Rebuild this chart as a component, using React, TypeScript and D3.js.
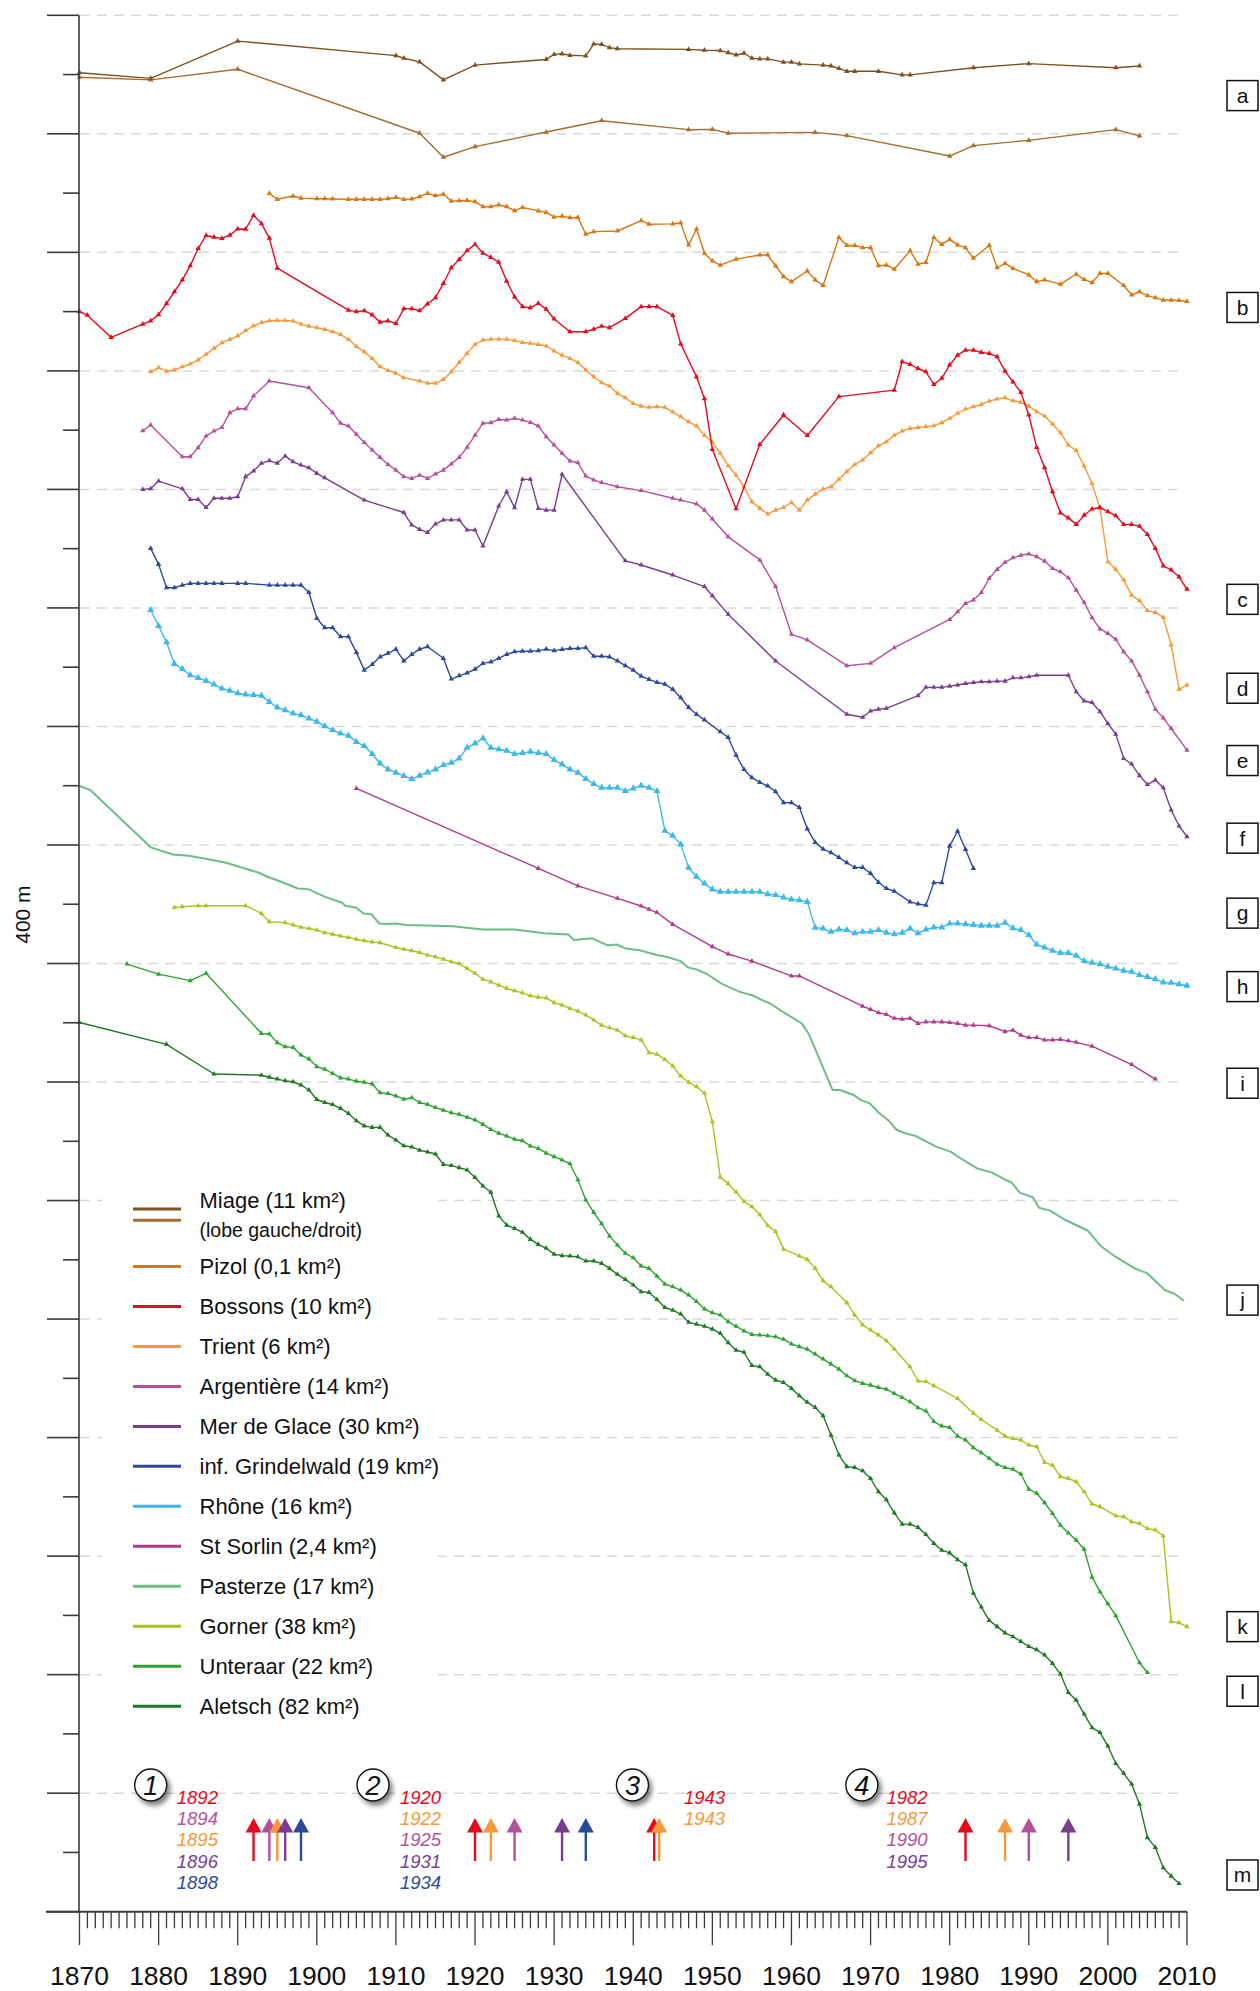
import React from 'react';
import * as d3 from 'd3';

type P = [number, number];

// ---- glacier series: [year, position in metres below the top line] ----
const miageLeft: P[] = [[1870,194],[1879,213],[1890,87],[1910,136],[1911,145],[1913,157],[1916,218],[1920,168],[1929,149],[1930,132],[1931,130],[1932,135],[1934,137],[1935,97],[1936,98],[1937,109],[1938,113],[1947,115],[1949,118],[1951,119],[1952,126],[1953,134],[1954,128],[1955,145],[1956,147],[1957,147],[1959,158],[1960,158],[1961,164],[1964,168],[1965,171],[1966,179],[1967,189],[1968,189],[1971,189],[1974,201],[1975,201],[1983,177],[1990,163],[2001,177],[2004,171]];
const miageRight: P[] = [[1870,209],[1879,218],[1890,182],[1913,398],[1916,479],[1920,443],[1929,394],[1936,356],[1947,386],[1950,385],[1952,398],[1963,395],[1967,406],[1980,475],[1983,440],[1990,422],[2001,386],[2004,407]];
const pizol: P[] = [[1894,601],[1895,621],[1897,610],[1898,617],[1900,619],[1901,619],[1902,620],[1904,621],[1905,621],[1906,621],[1907,621],[1908,621],[1909,619],[1910,615],[1911,621],[1912,620],[1913,612],[1914,601],[1915,609],[1916,604],[1917,627],[1918,626],[1919,625],[1920,629],[1921,646],[1922,646],[1923,640],[1924,646],[1925,659],[1926,648],[1928,660],[1929,665],[1930,681],[1931,678],[1932,683],[1933,682],[1934,739],[1935,730],[1938,728],[1941,693],[1942,705],[1945,704],[1946,701],[1947,775],[1948,721],[1949,803],[1950,829],[1951,843],[1953,823],[1956,809],[1957,809],[1958,846],[1959,882],[1960,899],[1962,863],[1963,893],[1964,912],[1966,750],[1967,777],[1968,777],[1969,784],[1970,784],[1971,845],[1972,843],[1973,857],[1975,794],[1976,840],[1977,834],[1978,750],[1979,773],[1980,756],[1981,775],[1982,784],[1983,820],[1985,777],[1986,852],[1987,837],[1988,854],[1990,876],[1991,899],[1992,893],[1994,907],[1996,874],[1997,891],[1998,902],[1999,871],[2000,871],[2002,912],[2003,944],[2004,933],[2005,946],[2006,953],[2007,961],[2008,961],[2009,962],[2010,966]];
const bossons: P[] = [[1870,1000],[1871,1012],[1874,1087],[1878,1042],[1879,1031],[1880,1010],[1881,972],[1882,933],[1883,893],[1884,845],[1885,787],[1886,743],[1887,749],[1888,753],[1889,742],[1890,721],[1891,722],[1892,675],[1893,703],[1894,752],[1895,853],[1904,995],[1905,1000],[1906,997],[1907,1011],[1908,1036],[1909,1031],[1910,1040],[1911,990],[1912,990],[1913,997],[1914,974],[1915,953],[1916,905],[1917,852],[1918,824],[1919,794],[1920,773],[1921,803],[1922,817],[1923,833],[1924,897],[1925,950],[1926,983],[1927,987],[1928,972],[1929,992],[1930,1025],[1932,1068],[1934,1068],[1935,1059],[1936,1049],[1937,1054],[1939,1023],[1941,983],[1942,983],[1943,983],[1945,1013],[1946,1109],[1948,1220],[1949,1294],[1950,1465],[1953,1665],[1956,1448],[1959,1349],[1962,1418],[1966,1287],[1973,1265],[1974,1169],[1975,1178],[1976,1192],[1977,1203],[1978,1246],[1979,1225],[1980,1180],[1981,1147],[1982,1130],[1983,1130],[1984,1138],[1985,1141],[1986,1152],[1987,1201],[1988,1237],[1989,1273],[1990,1349],[1991,1458],[1992,1527],[1993,1608],[1994,1679],[1995,1696],[1996,1718],[1997,1687],[1998,1666],[1999,1661],[2000,1675],[2001,1689],[2002,1718],[2003,1718],[2004,1724],[2005,1752],[2006,1799],[2007,1858],[2008,1872],[2009,1895],[2010,1937]];
const trient: P[] = [[1879,1203],[1880,1189],[1881,1201],[1882,1197],[1883,1186],[1884,1177],[1885,1163],[1886,1144],[1887,1124],[1888,1105],[1889,1094],[1890,1082],[1891,1064],[1892,1048],[1893,1037],[1894,1031],[1895,1030],[1896,1030],[1897,1032],[1898,1042],[1899,1049],[1900,1054],[1901,1060],[1902,1068],[1903,1077],[1904,1094],[1905,1118],[1906,1135],[1907,1158],[1908,1186],[1909,1199],[1910,1208],[1911,1223],[1913,1234],[1914,1242],[1915,1242],[1916,1229],[1917,1203],[1918,1172],[1919,1141],[1920,1111],[1921,1096],[1922,1093],[1923,1093],[1924,1093],[1925,1098],[1926,1104],[1927,1107],[1928,1111],[1929,1116],[1930,1133],[1931,1147],[1932,1158],[1933,1172],[1934,1197],[1935,1220],[1936,1240],[1937,1251],[1938,1276],[1939,1291],[1940,1310],[1941,1319],[1942,1323],[1943,1321],[1944,1323],[1945,1339],[1946,1355],[1947,1372],[1948,1386],[1949,1417],[1950,1441],[1951,1478],[1952,1520],[1953,1552],[1954,1591],[1955,1642],[1956,1664],[1957,1683],[1958,1670],[1959,1661],[1960,1644],[1961,1670],[1962,1636],[1963,1616],[1964,1599],[1965,1591],[1966,1566],[1967,1540],[1968,1516],[1969,1501],[1970,1476],[1971,1453],[1972,1439],[1973,1417],[1974,1403],[1975,1394],[1976,1391],[1977,1388],[1978,1385],[1979,1375],[1980,1360],[1981,1343],[1982,1329],[1983,1321],[1984,1313],[1985,1302],[1986,1295],[1987,1291],[1988,1301],[1989,1306],[1990,1319],[1991,1338],[1992,1352],[1993,1379],[1994,1409],[1995,1450],[1996,1469],[1997,1521],[1998,1580],[1999,1664],[2000,1844],[2001,1870],[2002,1906],[2003,1957],[2004,1976],[2005,2009],[2006,2015],[2007,2032],[2008,2125],[2009,2275],[2010,2260]];
const argentiere: P[] = [[1878,1402],[1879,1383],[1883,1490],[1884,1490],[1885,1459],[1886,1420],[1887,1403],[1888,1391],[1889,1341],[1890,1328],[1891,1328],[1892,1285],[1894,1234],[1899,1257],[1902,1341],[1903,1377],[1904,1386],[1905,1414],[1906,1442],[1907,1467],[1908,1492],[1909,1516],[1910,1535],[1911,1557],[1912,1563],[1913,1552],[1914,1563],[1915,1548],[1916,1535],[1917,1514],[1918,1492],[1919,1458],[1920,1417],[1921,1377],[1922,1375],[1923,1364],[1924,1366],[1925,1360],[1926,1366],[1927,1374],[1928,1386],[1929,1422],[1930,1450],[1931,1478],[1932,1504],[1933,1510],[1934,1555],[1935,1568],[1936,1577],[1938,1591],[1941,1604],[1945,1630],[1946,1636],[1948,1649],[1949,1670],[1950,1700],[1952,1760],[1956,1838],[1958,1928],[1960,2089],[1962,2108],[1967,2195],[1970,2187],[1973,2134],[1980,2039],[1981,2013],[1982,1985],[1983,1973],[1984,1948],[1985,1900],[1986,1870],[1987,1846],[1988,1831],[1989,1822],[1990,1818],[1991,1827],[1992,1842],[1993,1867],[1994,1878],[1995,1898],[1996,1940],[1997,1981],[1998,2033],[1999,2071],[2000,2086],[2001,2106],[2002,2148],[2003,2179],[2004,2227],[2005,2283],[2006,2342],[2007,2371],[2008,2407],[2010,2480]];
const merDeGlace: P[] = [[1878,1600],[1879,1598],[1880,1572],[1883,1598],[1884,1634],[1885,1634],[1886,1661],[1887,1630],[1888,1630],[1889,1630],[1890,1625],[1891,1557],[1892,1538],[1893,1512],[1894,1503],[1895,1512],[1896,1487],[1897,1507],[1898,1518],[1899,1527],[1900,1546],[1901,1561],[1906,1636],[1911,1678],[1912,1720],[1913,1735],[1914,1745],[1915,1717],[1916,1703],[1917,1703],[1918,1703],[1919,1737],[1920,1737],[1921,1791],[1923,1656],[1924,1608],[1925,1662],[1926,1566],[1927,1566],[1928,1664],[1929,1670],[1930,1670],[1931,1549],[1939,1841],[1941,1855],[1945,1889],[1949,1928],[1950,1959],[1952,2021],[1958,2179],[1967,2359],[1969,2369],[1970,2348],[1971,2342],[1972,2339],[1976,2296],[1977,2268],[1978,2268],[1979,2268],[1980,2264],[1981,2260],[1982,2255],[1983,2252],[1984,2249],[1985,2249],[1986,2247],[1987,2247],[1988,2236],[1989,2236],[1990,2232],[1991,2227],[1995,2227],[1996,2283],[1997,2314],[1998,2319],[1999,2350],[2000,2390],[2001,2426],[2002,2508],[2003,2527],[2004,2566],[2005,2596],[2006,2581],[2007,2607],[2008,2682],[2009,2736],[2010,2772]];
const grindelwald: P[] = [[1879,1799],[1880,1853],[1881,1932],[1882,1932],[1883,1923],[1884,1917],[1885,1917],[1886,1917],[1887,1917],[1888,1917],[1890,1917],[1891,1917],[1894,1923],[1895,1923],[1896,1923],[1897,1923],[1898,1923],[1899,1948],[1900,2035],[1901,2067],[1902,2067],[1903,2097],[1904,2097],[1905,2150],[1906,2210],[1907,2191],[1908,2165],[1909,2153],[1910,2139],[1911,2179],[1912,2157],[1913,2139],[1914,2131],[1916,2170],[1917,2240],[1918,2229],[1919,2219],[1920,2207],[1921,2187],[1922,2182],[1923,2170],[1924,2157],[1925,2148],[1926,2146],[1927,2146],[1928,2144],[1929,2139],[1930,2144],[1931,2140],[1932,2137],[1933,2137],[1934,2134],[1935,2163],[1936,2163],[1937,2165],[1938,2179],[1939,2195],[1940,2210],[1941,2230],[1942,2241],[1943,2251],[1944,2257],[1945,2275],[1946,2303],[1947,2336],[1948,2359],[1949,2378],[1951,2418],[1952,2437],[1953,2497],[1954,2545],[1955,2573],[1956,2589],[1957,2601],[1958,2620],[1959,2657],[1960,2657],[1961,2673],[1962,2746],[1963,2791],[1964,2814],[1965,2826],[1966,2842],[1967,2860],[1968,2876],[1969,2876],[1970,2896],[1971,2926],[1972,2947],[1973,2956],[1975,2992],[1976,2999],[1977,3003],[1978,2927],[1979,2927],[1980,2804],[1981,2753],[1982,2815],[1983,2879]];
const rhone: P[] = [[1879,2007],[1880,2061],[1881,2116],[1882,2189],[1883,2206],[1884,2227],[1885,2236],[1886,2246],[1887,2258],[1888,2272],[1889,2279],[1890,2288],[1891,2292],[1892,2294],[1893,2296],[1894,2317],[1895,2336],[1896,2345],[1897,2356],[1898,2362],[1899,2373],[1900,2384],[1901,2399],[1902,2412],[1903,2424],[1904,2431],[1905,2452],[1906,2466],[1907,2493],[1908,2525],[1909,2545],[1910,2556],[1911,2567],[1912,2577],[1913,2566],[1914,2555],[1915,2545],[1916,2530],[1917,2522],[1918,2508],[1919,2472],[1920,2457],[1921,2440],[1922,2472],[1923,2477],[1924,2482],[1925,2493],[1926,2489],[1927,2485],[1928,2489],[1929,2493],[1930,2513],[1931,2528],[1932,2545],[1933,2556],[1934,2577],[1935,2594],[1936,2607],[1937,2607],[1938,2607],[1939,2618],[1940,2609],[1941,2600],[1942,2607],[1943,2618],[1944,2752],[1945,2769],[1946,2798],[1947,2877],[1948,2907],[1949,2930],[1950,2950],[1951,2958],[1952,2958],[1953,2958],[1954,2958],[1955,2958],[1956,2958],[1957,2966],[1958,2969],[1959,2977],[1960,2984],[1961,2986],[1962,2992],[1963,3079],[1964,3082],[1965,3093],[1966,3085],[1967,3087],[1968,3098],[1969,3093],[1970,3093],[1971,3087],[1972,3096],[1973,3101],[1974,3096],[1975,3082],[1976,3098],[1977,3085],[1978,3078],[1979,3078],[1980,3065],[1981,3065],[1982,3067],[1983,3070],[1984,3072],[1985,3072],[1986,3072],[1987,3062],[1988,3081],[1989,3087],[1990,3104],[1991,3136],[1992,3146],[1993,3157],[1994,3164],[1995,3164],[1996,3174],[1997,3191],[1998,3197],[1999,3202],[2000,3211],[2001,3217],[2002,3224],[2003,3228],[2004,3239],[2005,3245],[2006,3253],[2007,3264],[2008,3265],[2009,3270],[2010,3275]];
const stSorlin: P[] = [[1905,2609],[1928,2879],[1933,2938],[1938,2980],[1941,3006],[1942,3017],[1943,3028],[1945,3068],[1950,3143],[1952,3168],[1955,3192],[1960,3242],[1961,3242],[1969,3344],[1970,3355],[1971,3366],[1972,3372],[1973,3385],[1974,3388],[1975,3385],[1976,3402],[1977,3397],[1978,3397],[1979,3397],[1980,3399],[1981,3402],[1982,3408],[1983,3408],[1985,3410],[1987,3430],[1988,3425],[1989,3442],[1990,3450],[1991,3450],[1992,3458],[1993,3458],[1994,3456],[1995,3461],[1996,3466],[1998,3479],[2003,3541],[2006,3590]];
const pasterze: P[] = [[1870,2601],[1871.4,2615],[1879,2808],[1881.8,2832],[1883.8,2836],[1886.3,2848],[1888.4,2859],[1890.5,2876],[1892.6,2893],[1893.9,2909],[1895.5,2924],[1897.6,2947],[1898.9,2949],[1901.2,2977],[1903.2,2995],[1903.6,3005],[1905,3012],[1905.9,3031],[1906.9,3034],[1907.9,3065],[1908.8,3067],[1910,3065],[1911.3,3070],[1917.2,3074],[1921,3085],[1925,3085],[1927.3,3093],[1928.7,3098],[1931.8,3102],[1932.5,3121],[1934.8,3115],[1936.7,3138],[1937.9,3136],[1939,3149],[1940.8,3155],[1943.1,3172],[1944.2,3177],[1946,3192],[1946.9,3213],[1948,3220],[1949.4,3237],[1951.2,3269],[1953.4,3295],[1955.2,3309],[1956.5,3326],[1957.3,3335],[1958.9,3363],[1961.3,3402],[1962.2,3438],[1963.6,3526],[1965.2,3627],[1966.1,3627],[1967.9,3644],[1968.8,3661],[1969.9,3672],[1971,3703],[1972.2,3728],[1973.3,3762],[1974.4,3773],[1975.6,3781],[1978.3,3818],[1980.1,3835],[1981.4,3858],[1983.5,3892],[1985.3,3905],[1986.9,3928],[1987.8,3939],[1988.9,3974],[1990.5,3989],[1991.3,4024],[1992.7,4034],[1994.5,4064],[1997.5,4102],[1999.2,4156],[2001.1,4192],[2003.4,4229],[2005,4246],[2007.2,4302],[2008.5,4316],[2009.6,4338]];
const gorner: P[] = [[1882,3011],[1883,3008],[1885,3005],[1886,3005],[1891,3005],[1893,3031],[1894,3059],[1896,3062],[1897,3070],[1898,3078],[1899,3082],[1900,3087],[1901,3096],[1902,3101],[1903,3107],[1904,3112],[1905,3118],[1906,3123],[1907,3127],[1908,3130],[1910,3146],[1911,3152],[1912,3157],[1913,3163],[1914,3172],[1915,3177],[1916,3186],[1917,3194],[1918,3200],[1919,3217],[1920,3233],[1921,3253],[1922,3262],[1923,3273],[1924,3284],[1925,3292],[1926,3299],[1927,3309],[1928,3314],[1929,3316],[1930,3332],[1931,3340],[1932,3352],[1933,3361],[1934,3374],[1935,3391],[1936,3408],[1937,3417],[1938,3425],[1939,3444],[1940,3450],[1941,3458],[1942,3501],[1943,3506],[1944,3524],[1945,3546],[1946,3580],[1947,3601],[1948,3616],[1949,3638],[1950,3734],[1951,3921],[1952,3943],[1953,3971],[1954,4003],[1955,4021],[1956,4048],[1957,4084],[1958,4105],[1959,4164],[1961,4187],[1962,4199],[1963,4229],[1964,4271],[1965,4291],[1967,4345],[1968,4386],[1969,4420],[1970,4437],[1971,4454],[1972,4473],[1973,4501],[1975,4561],[1976,4609],[1977,4611],[1978,4625],[1981,4668],[1983,4718],[1984,4739],[1986,4775],[1987,4795],[1988,4803],[1989,4808],[1990,4825],[1991,4831],[1992,4884],[1993,4893],[1994,4932],[1995,4938],[1996,4949],[1997,4983],[1998,5024],[1999,5033],[2001,5064],[2002,5067],[2003,5084],[2004,5090],[2005,5107],[2006,5112],[2007,5132],[2008,5421],[2009,5425],[2010,5438]];
const unteraar: P[] = [[1876,3202],[1880,3236],[1884,3258],[1886,3233],[1893,3436],[1894,3438],[1895,3467],[1896,3481],[1897,3483],[1898,3509],[1899,3522],[1900,3548],[1901,3557],[1902,3571],[1903,3586],[1904,3590],[1905,3597],[1906,3601],[1907,3607],[1908,3636],[1909,3639],[1910,3647],[1911,3658],[1912,3653],[1913,3669],[1914,3676],[1915,3686],[1916,3695],[1917,3704],[1918,3709],[1919,3719],[1920,3728],[1921,3743],[1922,3760],[1923,3773],[1924,3782],[1925,3793],[1926,3798],[1927,3816],[1928,3824],[1929,3840],[1930,3852],[1931,3863],[1932,3876],[1933,3930],[1934,3998],[1935,4040],[1936,4078],[1937,4120],[1938,4150],[1939,4178],[1940,4193],[1941,4221],[1942,4229],[1943,4255],[1944,4282],[1945,4291],[1946,4302],[1947,4319],[1948,4341],[1949,4366],[1950,4379],[1951,4386],[1952,4409],[1953,4424],[1954,4440],[1955,4452],[1956,4454],[1957,4456],[1958,4460],[1959,4468],[1960,4484],[1961,4493],[1962,4502],[1963,4518],[1964,4535],[1965,4552],[1966,4569],[1967,4591],[1968,4608],[1969,4617],[1970,4623],[1971,4631],[1972,4637],[1973,4651],[1974,4665],[1975,4679],[1976,4699],[1977,4710],[1978,4746],[1979,4761],[1980,4766],[1981,4795],[1982,4808],[1983,4834],[1984,4851],[1985,4870],[1986,4890],[1987,4901],[1988,4907],[1989,4923],[1990,4974],[1991,4988],[1992,5020],[1993,5056],[1994,5096],[1995,5122],[1996,5146],[1997,5177],[1998,5271],[1999,5320],[2000,5361],[2001,5401],[2004,5560],[2005,5593]];
const aletsch: P[] = [[1870,3399],[1881,3473],[1887,3573],[1893,3577],[1894,3584],[1895,3590],[1896,3596],[1897,3599],[1898,3610],[1899,3627],[1900,3659],[1901,3669],[1902,3676],[1903,3689],[1904,3706],[1905,3731],[1906,3748],[1907,3753],[1908,3753],[1909,3779],[1910,3796],[1911,3815],[1912,3819],[1913,3830],[1914,3836],[1915,3843],[1916,3878],[1917,3882],[1918,3889],[1919,3897],[1920,3922],[1921,3951],[1922,3972],[1923,4052],[1924,4083],[1925,4094],[1926,4107],[1927,4131],[1928,4148],[1929,4161],[1930,4181],[1931,4186],[1932,4187],[1933,4190],[1934,4204],[1935,4204],[1936,4212],[1937,4229],[1938,4249],[1939,4266],[1940,4285],[1941,4308],[1942,4310],[1943,4334],[1944,4361],[1945,4370],[1946,4383],[1947,4411],[1948,4417],[1949,4424],[1950,4434],[1951,4448],[1952,4480],[1953,4505],[1954,4512],[1955,4557],[1956,4561],[1957,4586],[1958,4606],[1959,4614],[1960,4634],[1961,4659],[1962,4681],[1963,4698],[1964,4726],[1965,4791],[1966,4859],[1967,4898],[1968,4901],[1969,4912],[1970,4938],[1971,4983],[1972,5010],[1973,5054],[1974,5092],[1975,5092],[1976,5103],[1977,5127],[1978,5157],[1979,5180],[1980,5189],[1981,5212],[1982,5229],[1983,5325],[1984,5372],[1985,5417],[1986,5438],[1987,5459],[1988,5472],[1989,5488],[1990,5505],[1991,5516],[1992,5534],[1993,5562],[1994,5598],[1995,5660],[1996,5686],[1997,5733],[1998,5779],[1999,5795],[2000,5841],[2001,5900],[2002,5933],[2003,5969],[2004,6037],[2005,6150],[2006,6183],[2007,6252],[2008,6280],[2009,6305]];

// ---- legend ----
const legendNames = ['Pizol (0,1 km²)', 'Bossons (10 km²)', 'Trient (6 km²)', 'Argentière (14 km²)', 'Mer de Glace (30 km²)', 'inf. Grindelwald (19 km²)', 'Rhône (16 km²)', 'St Sorlin (2,4 km²)', 'Pasterze (17 km²)', 'Gorner (38 km²)', 'Unteraar (22 km²)', 'Aletsch (82 km²)'];
const legendColors = ['#d9760e', '#e30b1c', '#f7993a', '#b5509c', '#7a3d92', '#2c4a9b', '#3cb9ea', '#b13a8d', '#6dbd86', '#a9c41d', '#2fa332', '#1e7a22'];

// ---- right-side letters ----
const boxLetters = ['a', 'b', 'c', 'd', 'e', 'f', 'g', 'h', 'i', 'j', 'k', 'l', 'm'];
const boxDepths = [271, 986, 1971, 2271, 2515, 2777, 3030, 3278, 3604, 4336, 5438, 5656, 6276];

// ---- x axis ----
const xTickYears = d3.range(1870, 2011, 10);

// ---- events (arrows) ----
const RED = '#e30b1c', PINK = '#b5509c', ORANGE = '#f7993a', PURPLE = '#7a3d92', BLUE = '#2c4a9b';
const eventNumbers = ['1', '2', '3', '4'];
const eventCircleYears = [1879, 1907.1, 1939.9, 1968.9];
const eventTextYears = [1882.3, 1910.5, 1946.4, 1972];
const eventYears = [[1892, 1894, 1895, 1896, 1898], [1920, 1922, 1925, 1931, 1934], [1943, 1943], [1982, 1987, 1990, 1995]];
const eventColors = [[RED, PINK, ORANGE, PURPLE, BLUE], [RED, ORANGE, PINK, PURPLE, BLUE], [RED, ORANGE], [RED, ORANGE, PINK, PURPLE]];

const FONT = '"Liberation Sans", Arial, Helvetica, sans-serif';

export default function App() {
  const x = d3.scaleLinear().domain([1870, 2010]).range([79.5, 1187]);
  const y = d3.scaleLinear().domain([0, 6400]).range([15.3, 1911.7]);
  const line = d3.line<P>().x(d => x(d[0])).y(d => y(d[1]));
  const tri = (s: number) => d3.symbol().type(d3.symbolTriangle).size(s)() as string;

  const series = [
    { data: miageRight, color: '#a66c30', m: 13, w: 1.4 },
    { data: miageLeft, color: '#80501f', m: 13, w: 1.4 },
    { data: pizol, color: legendColors[0], m: 13, w: 1.4 },
    { data: trient, color: legendColors[2], m: 12, w: 1.4 },
    { data: bossons, color: legendColors[1], m: 13, w: 1.4 },
    { data: argentiere, color: legendColors[3], m: 12, w: 1.4 },
    { data: merDeGlace, color: legendColors[4], m: 12, w: 1.4 },
    { data: grindelwald, color: legendColors[5], m: 13, w: 1.4 },
    { data: rhone, color: legendColors[6], m: 22, w: 1.4 },
    { data: stSorlin, color: legendColors[7], m: 12, w: 1.4 },
    { data: pasterze, color: legendColors[8], m: 0, w: 2 },
    { data: gorner, color: legendColors[9], m: 12, w: 1.4 },
    { data: unteraar, color: legendColors[10], m: 12, w: 1.4 },
    { data: aletsch, color: legendColors[11], m: 12, w: 1.4 },
  ];

  const yTicks = d3.range(0, 6401, 200);
  const gridVals = d3.range(0, 6001, 400);
  const minorYears = d3.range(1870, 2011, 1);
  const axisY = y(6400);

  return (
    <svg width={1260} height={1991} viewBox="0 0 1260 1991" style={{ position: 'absolute', left: 0, top: 0, background: '#fff' }} fontFamily={FONT}>
      <defs>
        <filter id="shadow" x="-50%" y="-50%" width="200%" height="200%">
          <feDropShadow dx="3" dy="4" stdDeviation="2.5" floodColor="#000" floodOpacity="0.5" />
        </filter>
      </defs>
      <rect x={0} y={0} width={1260} height={1991} fill="#fff" />

      {/* gridlines */}
      {gridVals.map(v => (
        <line key={'g' + v} x1={80} x2={1183} y1={y(v)} y2={y(v)} stroke="#d9d9d9" strokeWidth={1.5} strokeDasharray="10 7" />
      ))}

      {/* series */}
      {series.map((s, i) => (
        <g key={'s' + i}>
          <path d={line(s.data) as string} fill="none" stroke={s.color} strokeWidth={s.w} strokeLinejoin="round" />
          {s.m > 0 && s.data.map((d, j) => (
            <path key={j} d={tri(s.m)} transform={`translate(${x(d[0])},${y(d[1])})`} fill={s.color} />
          ))}
        </g>
      ))}

      {/* legend */}
      <rect x={102} y={1174} width={336} height={556} fill="#fff" />
      <line x1={133} x2={181} y1={1209} y2={1209} stroke="#80501f" strokeWidth={3} />
      <line x1={133} x2={181} y1={1220.3} y2={1220.3} stroke="#a66c30" strokeWidth={3} />
      <text x={199.5} y={1200.7} dy="0.35em" fontSize={22} fill="#111">Miage (11 km²)</text>
      <text x={199.5} y={1230} dy="0.35em" fontSize={19.5} fill="#111">(lobe gauche/droit)</text>
      {legendNames.map((n, i) => {
        const cy = 1266.5 + i * 39.97;
        return (
          <g key={'l' + i}>
            <line x1={133} x2={181} y1={cy} y2={cy} stroke={legendColors[i]} strokeWidth={3} />
            <text x={199.5} y={cy} dy="0.35em" fontSize={22} fill="#111">{n}</text>
          </g>
        );
      })}

      {/* y axis */}
      <line x1={79} x2={79} y1={y(0)} y2={axisY} stroke="#3a3a3a" strokeWidth={1.6} />
      {yTicks.map((v, i) => (
        <line key={'yt' + v} x1={i % 2 === 0 ? 47 : 63} x2={79} y1={y(v)} y2={y(v)} stroke="#3a3a3a" strokeWidth={1.6} />
      ))}
      <text transform={`translate(23,${y(3035)}) rotate(-90)`} textAnchor="middle" dy="0.35em" fontSize={21} fill="#111">400 m</text>

      {/* x axis */}
      <line x1={46} x2={x(2010)} y1={axisY} y2={axisY} stroke="#3a3a3a" strokeWidth={2} />
      {minorYears.map(yr => (
        <line key={'xm' + yr} x1={x(yr)} x2={x(yr)} y1={axisY} y2={axisY + (yr % 10 === 0 ? 33.5 : 16.6)} stroke="#3a3a3a" strokeWidth={1.3} />
      ))}
      {xTickYears.map(yr => (
        <text key={'xl' + yr} x={x(yr)} y={1985} textAnchor="middle" fontSize={26.5} fill="#111">{yr}</text>
      ))}

      {/* right letter boxes */}
      {boxLetters.map((l, i) => (
        <g key={'b' + l}>
          <rect x={1227} y={y(boxDepths[i]) - 15} width={31} height={30} fill="#fff" stroke="#111" strokeWidth={1.5} />
          <text x={1242.5} y={y(boxDepths[i])} dy="0.35em" textAnchor="middle" fontSize={21} fill="#111">{l}</text>
        </g>
      ))}

      {/* events */}
      {eventNumbers.map((n, gi) => {
        const cx = x(eventCircleYears[gi]);
        const tx = x(eventTextYears[gi]);
        return (
          <g key={'e' + gi}>
            <circle cx={cx} cy={1785} r={16} fill="#fff" stroke="#111" strokeWidth={1.4} filter="url(#shadow)" />
            <text x={cx} y={1785} dy="0.36em" textAnchor="middle" fontSize={27} fontStyle="italic" fill="#111">{n}</text>
            {eventYears[gi].map((yr, k) => (
              <text key={'t' + k} x={tx} y={1803.5 + k * 21.4} fontSize={18.5} fontStyle="italic" fill={eventColors[gi][k]}>{yr}</text>
            ))}
            {eventYears[gi].map((yr, k) => {
              const dup = eventYears[gi].indexOf(yr) !== k;
              const hasDup = eventYears[gi].filter(v => v === yr).length > 1;
              const ax = x(yr) + (hasDup ? (dup ? 2.2 : -2.8) : 0);
              const c = eventColors[gi][k];
              return (
                <g key={'a' + k}>
                  <line x1={ax} x2={ax} y1={1861} y2={1830} stroke={c} strokeWidth={2.4} />
                  <path d={`M${ax - 8},${1832.5} L${ax + 8},${1832.5} L${ax},${1818} Z`} fill={c} />
                </g>
              );
            })}
          </g>
        );
      })}
    </svg>
  );
}
